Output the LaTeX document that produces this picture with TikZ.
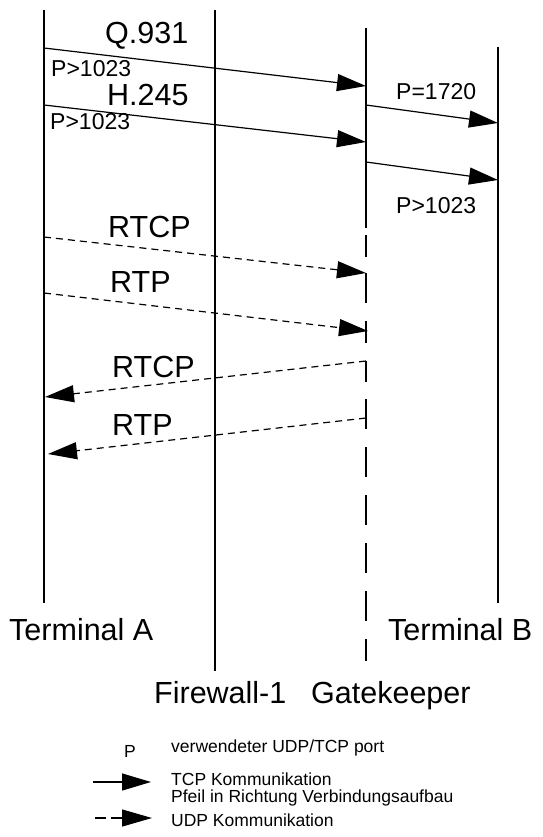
\documentclass[tikz,border=0pt]{standalone}
\usepackage{fontspec}
\setmainfont{Liberation Sans}
\usetikzlibrary{arrows.meta}
\tikzset{
  life/.style={line width=1.2pt},
  tcp/.style={line width=1.2pt,-{Triangle[length=29pt 0,width=17pt 0]}},
  udp/.style={line width=1.2pt,dash pattern=on 7pt off 5pt,-{Triangle[length=29pt 0,width=17pt 0]}},
  big/.style={inner sep=0pt,anchor=base west,font=\fontsize{30.5}{36}\selectfont},
  small/.style={inner sep=0pt,anchor=base west,font=\fontsize{23}{27}\selectfont},
  leg/.style={inner sep=0pt,anchor=base west,font=\fontsize{17.5}{20}\selectfont},
}
\begin{document}
\begin{tikzpicture}[x=1pt,y=-1pt]
\useasboundingbox (0,0) rectangle (542,837);
% lifelines
\coordinate (At) at (44,10);   \coordinate (Ab) at (44,603);
\coordinate (Ft) at (215,10);  \coordinate (Fb) at (215,671);
\coordinate (Gt) at (366,28);  \coordinate (Gm) at (366,228);
\coordinate (Gd) at (366,235); \coordinate (Gb) at (366,673);
\coordinate (Bt) at (498,47);  \coordinate (Bb) at (498,603);
\draw[life] (At) -- (Ab);
\draw[life] (Ft) -- (Fb);
\draw[life] (Gt) -- (Gm);
\draw[life,dash pattern=on 22pt off 16pt on 30pt off 18pt on 22pt off 18pt on 21pt off 17pt on 30pt off 18pt on 30pt off 18pt on 30pt off 18pt on 30pt off 18pt on 30pt off 18pt] (Gd) -- (Gb);
\draw[life] (Bt) -- (Bb);
% arrow endpoints
\coordinate (q1) at (44,48);   \coordinate (q2) at (366,86);
\coordinate (h1) at (44,105);  \coordinate (h2) at (366,142);
\coordinate (p1) at (366,105); \coordinate (p2) at (498,123);
\coordinate (r1) at (366,162); \coordinate (r2) at (498,180);
\coordinate (c1) at (44,237);  \coordinate (c2) at (366,273);
\coordinate (t1) at (44,293);  \coordinate (t2) at (368,331);
\coordinate (d1) at (366,361); \coordinate (d2) at (45,397);
\coordinate (e1) at (366,418); \coordinate (e2) at (48,454);
\draw[tcp] (q1) -- (q2);
\draw[tcp] (h1) -- (h2);
\draw[tcp] (p1) -- (p2);
\draw[tcp] (r1) -- (r2);
\draw[udp] (c1) -- (c2);
\draw[udp] (t1) -- (t2);
\draw[udp] (d1) -- (d2);
\draw[udp] (e1) -- (e2);
% labels
\node[big] (lq) at (105,44) {Q.931};
\node[small] (lp1) at (51,77) {P>1023};
\node[big] (lh) at (107,106) {H.245};
\node[small] (lp2) at (50,130) {P>1023};
\node[small] (lp3) at (396,100) {P=1720};
\node[small] (lp4) at (396,213) {P>1023};
\node[big] (lc1) at (108,237) {RTCP};
\node[big] (lt1) at (110,292) {RTP};
\node[big] (lc2) at (112,377) {RTCP};
\node[big] (lt2) at (112,435) {RTP};
\node[big] (nA) at (9,640) {Terminal A};
\node[big] (nB) at (388,640) {Terminal B};
\node[big] (nF) at (154,703) {Firewall-1};
\node[big] (nG) at (311,703) {Gatekeeper};
% legend
\node[leg] (kp) at (124,757) {P};
\node[leg] (kpt) at (171,752) {verwendeter UDP/TCP port};
\coordinate (k1a) at (93,782); \coordinate (k1b) at (151,782);
\draw[tcp] (k1a) -- (k1b);
\node[leg] (kt1) at (171,785) {TCP Kommunikation};
\node[leg] (kt2) at (171,802) {Pfeil in Richtung Verbindungsaufbau};
\coordinate (k2a) at (95,818); \coordinate (k2b) at (152,818);
\draw[line width=1.2pt,dash pattern=on 11pt off 5pt,-{Triangle[length=30pt 0,width=17pt 0]}] (k2a) -- (k2b);
\node[leg] (ku) at (171,826) {UDP Kommunikation};
\end{tikzpicture}
\end{document}
